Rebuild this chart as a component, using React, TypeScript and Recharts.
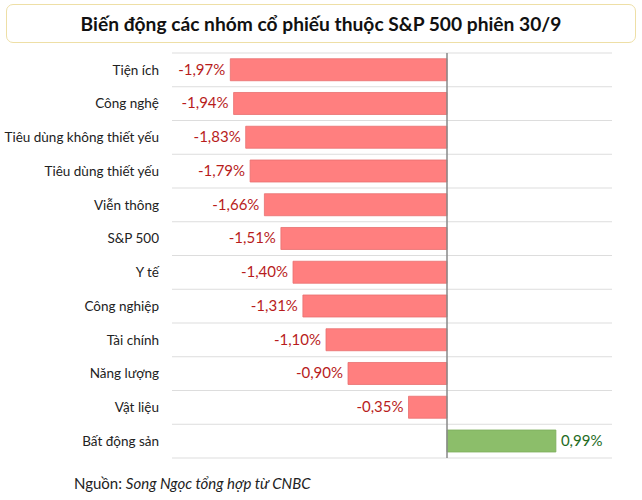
import React from "react";
import { BarChart, Bar, XAxis, YAxis, CartesianGrid, ReferenceLine, LabelList, Cell } from "recharts";

const sectors = [
  "Tiện ích",
  "Công nghệ",
  "Tiêu dùng không thiết yếu",
  "Tiêu dùng thiết yếu",
  "Viễn thông",
  "S&P 500",
  "Y tế",
  "Công nghiệp",
  "Tài chính",
  "Năng lượng",
  "Vật liệu",
  "Bất động sản",
];

const changes = [-1.97, -1.94, -1.83, -1.79, -1.66, -1.51, -1.4, -1.31, -1.1, -0.9, -0.35, 0.99];

const xDomain = [-2.5, 1.5];

const data = sectors.map((name, i) => ({ name, value: changes[i] }));

const FONT = "Lato, 'Open Sans', sans-serif";
const RED = "#FF7F7F";
const GREEN = "#8CBE6A";

const fmt = (v: number) => `${v.toFixed(2).replace(".", ",")}%`;

const ValueLabel = (props: any) => {
  const { x, y, width, height, value } = props;
  const left = Math.min(x, x + width);
  const right = Math.max(x, x + width);
  const neg = value < 0;
  return (
    <text
      x={neg ? left - 5 : right + 5}
      y={y + height / 2}
      dy={5}
      textAnchor={neg ? "end" : "start"}
      fill={neg ? "#B81C1C" : "#1E6B1E"}
      fontSize={15}
      fontFamily={FONT}
    >
      {fmt(value)}
    </text>
  );
};

// grid lines between rows rather than through the bar centers
const rowLines = ({ offset }: any) => {
  const n = data.length;
  const step = offset.height / n;
  return Array.from({ length: n + 1 }, (_, i) => offset.top + i * step);
};

export default function App() {
  return (
    <div
      style={{
        position: "absolute",
        left: 0,
        top: 0,
        width: 642,
        height: 500,
        background: "#fff",
        fontFamily: FONT,
      }}
    >
      <div
        style={{
          position: "absolute",
          left: 6,
          top: 4,
          width: 628,
          height: 37,
          border: "1px solid #EEDFA6",
          borderRadius: 7,
          display: "flex",
          alignItems: "center",
          justifyContent: "center",
          fontWeight: 700,
          fontSize: 19.2,
          color: "#111",
        }}
      >
        Biến động các nhóm cổ phiếu thuộc S&amp;P 500 phiên 30/9
      </div>

      <BarChart
        width={642}
        height={500}
        data={data}
        layout="vertical"
        margin={{ top: 53, right: 30, bottom: 42, left: 0 }}
        barCategoryGap="17%"
      >
        <CartesianGrid
          vertical={false}
          stroke="#DDDDDD"
          horizontalCoordinatesGenerator={rowLines}
        />
        <XAxis type="number" domain={xDomain} hide />
        <YAxis
          type="category"
          dataKey="name"
          width={172}
          axisLine={false}
          tickLine={false}
          tickMargin={7}
          interval={0}
          tick={{ fill: "#222", fontSize: 13.5, fontFamily: FONT }}
        />
        <ReferenceLine x={0} stroke="#888" strokeWidth={1.5} />
        <Bar dataKey="value" isAnimationActive={false}>
          {data.map((d, i) => (
            <Cell
              key={i}
              fill={d.value < 0 ? RED : GREEN}
              stroke={d.value < 0 ? "#E87070" : "#7DAF5C"}
              strokeWidth={0.8}
            />
          ))}
          <LabelList dataKey="value" content={ValueLabel} />
        </Bar>
      </BarChart>

      <div
        style={{
          position: "absolute",
          left: 74,
          top: 474,
          fontSize: 15,
          color: "#222",
          whiteSpace: "nowrap",
        }}
      >
        Nguồn: <i>Song Ngọc tổng hợp từ CNBC</i>
      </div>
    </div>
  );
}
